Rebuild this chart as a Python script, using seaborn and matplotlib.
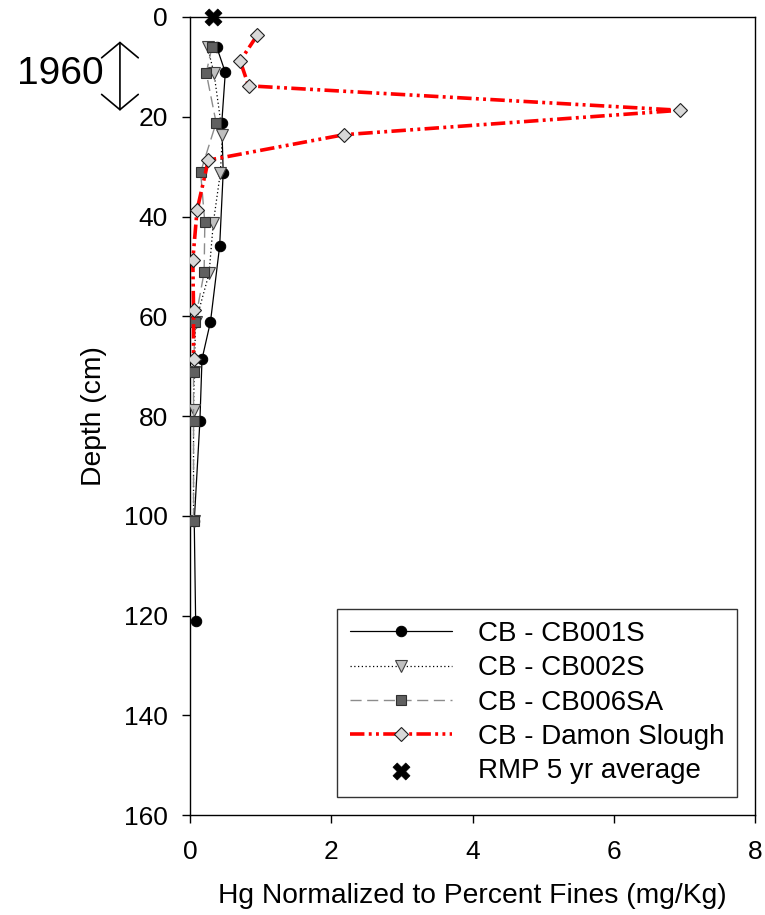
import matplotlib
matplotlib.use("Agg")
import matplotlib.pyplot as plt
import seaborn as sns
import pandas as pd

# ---- data ----
cb001s_depth = [6.1, 11.1, 21.2, 31.2, 45.9, 61.1, 68.6, 81.1, 101.1, 121.1]
cb001s_hg = [0.38, 0.50, 0.45, 0.47, 0.42, 0.29, 0.17, 0.14, 0.06, 0.08]

cb002s_depth = [6.1, 11.3, 23.6, 31.2, 41.3, 51.4, 61.2, 71.1, 78.8, 101.1]
cb002s_hg = [0.25, 0.34, 0.46, 0.43, 0.33, 0.27, 0.08, 0.06, 0.05, 0.05]

cb006sa_depth = [6.1, 11.2, 21.2, 31.1, 41.2, 51.2, 61.2, 71.1, 81.1, 101.1]
cb006sa_hg = [0.31, 0.23, 0.37, 0.15, 0.21, 0.20, 0.07, 0.05, 0.05, 0.05]

damon_depth = [3.7, 8.8, 13.8, 18.7, 23.6, 28.7, 38.7, 48.7, 58.7, 68.6]
damon_hg = [0.95, 0.71, 0.83, 6.94, 2.18, 0.26, 0.10, 0.04, 0.05, 0.05]

rmp_depth = [0.0]
rmp_hg = [0.33]

labels = ["CB - CB001S", "CB - CB002S", "CB - CB006SA", "CB - Damon Slough", "RMP 5 yr average"]
x_ticks = [0, 2, 4, 6, 8]
y_ticks = [0, 20, 40, 60, 80, 100, 120, 140, 160]

sns.set_theme(style="ticks")
plt.rcParams["font.family"] = ["Liberation Sans", "DejaVu Sans"]
plt.rcParams["text.color"] = "black"
plt.rcParams["axes.labelcolor"] = "black"
plt.rcParams["xtick.color"] = "black"
plt.rcParams["ytick.color"] = "black"

fig = plt.figure(figsize=(7.65, 9.15), dpi=100)
ax = fig.add_axes([190 / 765, 100 / 915, 565 / 765, 798 / 915])

def df(x, y):
    return pd.DataFrame({"hg": x, "depth": y})

sns.lineplot(data=df(cb001s_hg, cb001s_depth), x="hg", y="depth", sort=False, estimator=None,
             ax=ax, color="black", lw=0.9, ls="-", marker="o", markersize=7.5,
             markerfacecolor="black", markeredgecolor="black", label=labels[0], zorder=3)
sns.lineplot(data=df(cb002s_hg, cb002s_depth), x="hg", y="depth", sort=False, estimator=None,
             ax=ax, color="black", lw=0.9, ls=(0, (1, 2)), marker="v", markersize=8.5,
             markerfacecolor="#c0c0c0", markeredgecolor="#404040", markeredgewidth=0.8,
             label=labels[1], zorder=3)
sns.lineplot(data=df(cb006sa_hg, cb006sa_depth), x="hg", y="depth", sort=False, estimator=None,
             ax=ax, color="#8c8c8c", lw=1.0, ls=(0, (8, 4)), marker="s", markersize=7,
             markerfacecolor="#606060", markeredgecolor="#303030", markeredgewidth=0.8,
             label=labels[2], zorder=3)
sns.lineplot(data=df(damon_hg, damon_depth), x="hg", y="depth", sort=False, estimator=None,
             ax=ax, color="red", lw=2.6, ls=(0, (4, 1.2, 0.8, 1.2, 0.8, 1.2)), marker="D",
             markersize=7, markerfacecolor="#d8d8d8", markeredgecolor="#202020",
             markeredgewidth=0.8, label=labels[3], zorder=4)
sns.scatterplot(data=df(rmp_hg, rmp_depth), x="hg", y="depth", ax=ax, marker="X", s=150,
                color="black", edgecolor="black", linewidth=0.5, label=labels[4],
                clip_on=False, zorder=6)

ax.set_xlim(0, 8)
ax.set_ylim(160, 0)
ax.set_xticks(x_ticks)
ax.set_yticks(y_ticks)
ax.tick_params(axis="both", labelsize=19, length=6, width=1, color="black",
               labelcolor="black", direction="out")
ax.tick_params(axis="x", pad=12)
ax.tick_params(axis="y", pad=10)
for s in ax.spines.values():
    s.set_color("black")
    s.set_linewidth(1.0)
ax.set_xlabel("Hg Normalized to Percent Fines (mg/Kg)", fontsize=20.3, labelpad=14, color="black")
ax.set_ylabel("Depth (cm)", fontsize=20.3, labelpad=12, color="black")

leg = ax.legend(loc="lower right", bbox_to_anchor=(0.968, 0.0226), borderaxespad=0,
                fontsize=20, frameon=True, fancybox=False, handlelength=3.67,
                labelspacing=0.3, handletextpad=0.95, borderpad=0.45)
leg.get_frame().set_edgecolor("black")
leg.get_frame().set_linewidth(1.0)
for t in leg.get_texts():
    t.set_color("black")

# 1960 annotation
ax.annotate("", xy=(-0.124, 4.9), xytext=(-0.124, 18.8),
            xycoords=("axes fraction", "data"), textcoords=("axes fraction", "data"),
            arrowprops=dict(arrowstyle="<->,head_length=0.5,head_width=0.6", lw=1.2,
                            color="black", mutation_scale=22, shrinkA=0, shrinkB=0),
            annotation_clip=False)
ax.text(-0.230, 11.5, "1960", transform=ax.get_yaxis_transform(), fontsize=28,
        ha="center", va="center", color="black")

fig.savefig("out.png", dpi=100)
